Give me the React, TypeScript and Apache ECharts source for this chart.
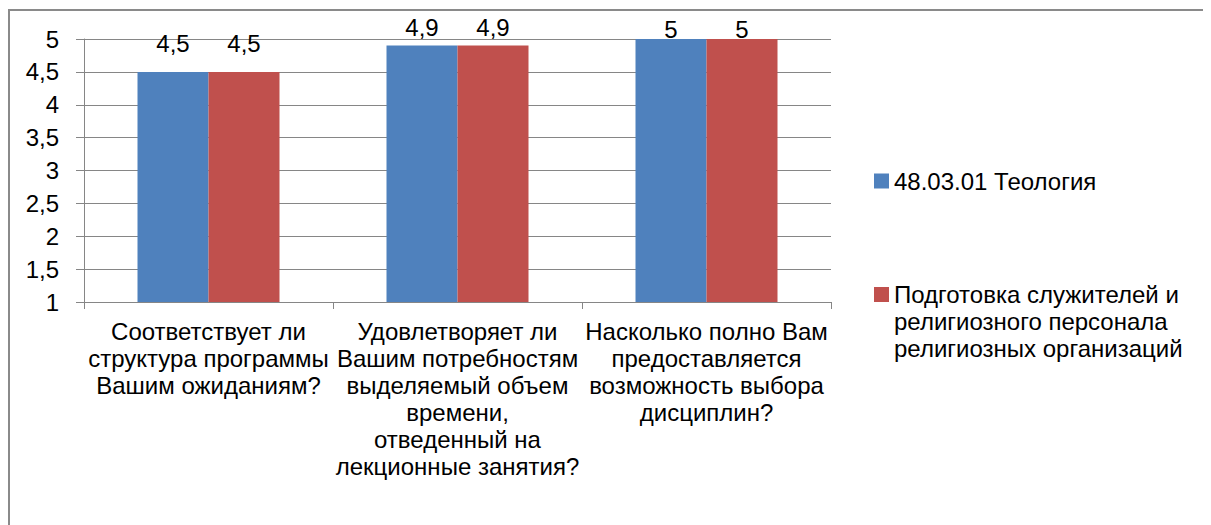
import React, { useEffect, useRef } from "react";
import * as echarts from "echarts";

const categories = [
  "Соответствует ли\nструктура программы\nВашим ожиданиям?",
  "Удовлетворяет ли\nВашим потребностям\nвыделяемый объем\nвремени,\nотведенный на\nлекционные занятия?",
  "Насколько полно Вам\nпредоставляется\nвозможность выбора\nдисциплин?",
];
const seriesNames = [
  "48.03.01 Теология",
  "Подготовка служителей и",
];
const legendExtraLines = ["религиозного персонала", "религиозных организаций"];
const theologyValues = [4.5, 4.9, 5];
const clergyValues = [4.5, 4.9, 5];
const yTicks = { min: 1, max: 5, interval: 0.5 };

const FONT = "'Liberation Sans', Arial, sans-serif";
const FS = 24;

export default function App() {
  const ref = useRef<HTMLDivElement>(null);
  useEffect(() => {
    if (!ref.current) return;
    const chart = echarts.init(ref.current, null, { renderer: "svg" });
    const comma = (v: number) => String(v).replace(".", ",");
    const labelCfg = {
      show: true,
      position: "top",
      distance: 6,
      color: "#000",
      fontFamily: FONT,
      fontSize: FS,
      formatter: (p: any) => comma(p.value),
    };
    const labelDistances = [16, 6, -2];
    const withLabels = (vals: number[]) =>
      vals.map((v, i) => ({ value: v, label: { distance: labelDistances[i] } }));
    const legendCommon = {
      orient: "vertical",
      left: 864,
      padding: 0,
      itemWidth: 15,
      itemHeight: 15,
      icon: "rect",
      textStyle: { color: "#000", fontFamily: FONT, fontSize: FS, lineHeight: 26 },
    };
    chart.setOption({
      animation: false,
      backgroundColor: "#fff",
      textStyle: { fontFamily: FONT },
      grid: { left: 74, top: 28, width: 747, height: 263 },
      xAxis: {
        type: "category",
        data: categories,
        axisLine: { lineStyle: { color: "#868686", width: 1 } },
        axisTick: { show: true, length: 7, lineStyle: { color: "#868686" } },
        axisLabel: {
          interval: 0,
          color: "#000",
          fontFamily: FONT,
          fontSize: FS,
          lineHeight: 27,
          margin: 16,
          align: "center",
        },
      },
      yAxis: {
        type: "value",
        min: yTicks.min,
        max: yTicks.max,
        interval: yTicks.interval,
        axisLine: { show: true, lineStyle: { color: "#868686", width: 1 } },
        axisTick: { show: true, length: 8, lineStyle: { color: "#868686" } },
        splitLine: { show: true, lineStyle: { color: "#868686", width: 1 } },
        axisLabel: {
          color: "#000",
          fontFamily: FONT,
          fontSize: FS,
          margin: 25,
          formatter: (v: number) => comma(v),
        },
      },
      legend: [
        { ...legendCommon, data: [seriesNames[0]], top: 170 - 13 },
        { ...legendCommon, data: [seriesNames[1]], top: 283.5 - 13 },
      ],
      graphic: legendExtraLines.map((t, i) => ({
        type: "text",
        left: 884,
        top: 284 + 27 * (i + 1) - 13,
        style: { text: t, fill: "#000", font: `${FS}px ${FONT}` },
      })),
      series: [
        {
          name: seriesNames[0],
          type: "bar",
          data: withLabels(theologyValues),
          barWidth: 71,
          barGap: "0%",
          itemStyle: { color: "#4F81BD" },
          label: labelCfg,
        },
        {
          name: seriesNames[1],
          type: "bar",
          data: withLabels(clergyValues),
          barWidth: 71,
          itemStyle: { color: "#C0504D" },
          label: labelCfg,
        },
      ],
    });
    return () => chart.dispose();
  }, []);
  return (
    <div
      style={{
        marginTop: 1,
        width: 1215,
        height: 530,
        border: "2px solid #8a8a8a",
        boxSizing: "content-box",
      }}
    >
      <div ref={ref} style={{ width: 1215, height: 530 }} />
    </div>
  );
}
